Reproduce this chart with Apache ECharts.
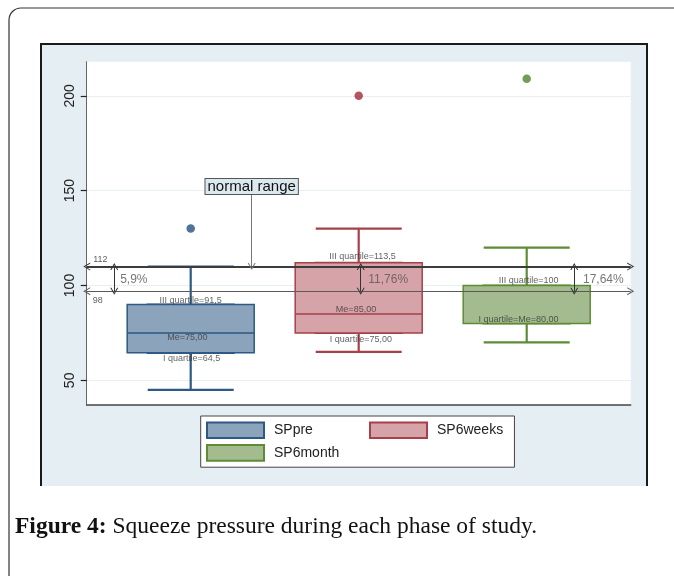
<!DOCTYPE html>
<html>
<head>
<meta charset="utf-8">
<script src="https://cdn.jsdelivr.net/npm/echarts@6/dist/echarts.min.js"></script>
<style>
html,body{margin:0;padding:0;background:#fff;}
#c{width:674px;height:576px;}
</style>
</head>
<body>
<div id="c"></div>
<script>
// ---------- data ----------
const categories = ['SPpre', 'SP6weeks', 'SP6month'];
const whiskerLow = [45, 65, 70];
const q1 = [64.5, 75, 80];
const median = [75, 85, 80];
const q3 = [90, 112, 100];
const whiskerHigh = [110, 130, 120];
const outliers = [130, 200, 209];
const yTicks = [50, 100, 150, 200];
const normalUpper = 110;   // line labelled "112"
const normalLower = 97;    // line labelled "98"
const normalLabels = ['112', '98'];
const percentLabels = ['5,9%', '11,76%', '17,64%'];
const quartileTexts = [
  ['III quartile=91,5', 'Me=75,00', 'I quartile=64,5'],
  ['III quartile=113,5', 'Me=85,00', 'I quartile=75,00'],
  ['III quartile=100', 'I quartile=Me=80,00']
];
const normalRangeText = 'normal range';
const captionBold = 'Figure 4:';
const captionText = 'Squeeze pressure during each phase of study.';

// ---------- styles / positions ----------
const fills = ['#8ba3bb', '#d6a3a8', '#a3bb8e'];
const borders = ['#2c5985', '#a8404a', '#5e8c35'];
const dots = ['#24507e', '#a02c37', '#52832b'];
const YMIN = 37, YMAX = 218;
const FONT = 'Liberation Sans, Arial, sans-serif';
const chevron = 'path://M0,10 L5,0 L10,10 L8.6,10 L5,2.8 L1.4,10 Z';

// annotation anchor positions (x in category units of the overlay axis)
const quartilePos = [
  [[0.0, 92], [-0.02, 72.4], [0.006, 61.7]],
  [[1.023, 115.2], [0.984, 87.6], [1.013, 71.7]],
  [[2.011, 102.5], [1.951, 82.2]]
];
const pctArrowX = [-0.455, 1.012, 2.283];
const pctLabelPos = [[-0.42, 102.9], [1.057, 102.9], [2.335, 103.3]];
const normalLabelPos = [[-0.58, 113.6], [-0.583, 92]];
const normalRangeX = 0.363, normalRangeTop = 148.2;

const chart = echarts.init(document.getElementById('c'), null, {renderer: 'canvas'});

const quartileData = [];
quartileTexts.forEach((arr, i) => arr.forEach((t, j) => {
  quartileData.push({value: [quartilePos[i][j][0], quartilePos[i][j][1], t]});
}));
const pctData = percentLabels.map((t, i) => ({value: [pctLabelPos[i][0], pctLabelPos[i][1], t]}));
const nlData = normalLabels.map((t, i) => ({value: [normalLabelPos[i][0], normalLabelPos[i][1], t]}));

const option = {
  backgroundColor: '#fff',
  animation: false,
  title: {
    text: '{b|' + captionBold + '} ' + captionText,
    left: 15, top: 515, padding: 0,
    textStyle: {
      fontFamily: 'Liberation Serif, serif', fontSize: 23.5, fontWeight: 'normal', color: '#111',
      rich: {b: {fontFamily: 'Liberation Serif, serif', fontSize: 23.5, fontWeight: 'bold', color: '#111'}}
    }
  },
  graphic: [
    {type: 'rect', z: -10, silent: true, shape: {x: 9, y: 8, width: 720, height: 620, r: 12},
     style: {fill: 'none', stroke: '#333', lineWidth: 1.2}},
    {type: 'rect', z: -10, silent: true, shape: {x: 41, y: 44, width: 606, height: 442},
     style: {fill: '#e5eef2'}},
    {type: 'polyline', z: -9, silent: true, shape: {points: [[41, 486], [41, 44], [647, 44], [647, 486]]},
     style: {fill: 'none', stroke: '#1a1a1a', lineWidth: 2}}
  ],
  legend: {
    left: 200.7, top: 416, width: 340,
    orient: 'horizontal', icon: 'rect',
    itemWidth: 57, itemHeight: 15.6, itemGap: 5,
    padding: [5.5, 11.3, 5.5, 5.3],
    borderColor: '#444', borderWidth: 1, backgroundColor: '#fff',
    textStyle: {fontFamily: FONT, fontSize: 14, color: '#222', lineHeight: 16, padding: [0, 0, 0, 5]},
    data: [{name: categories[0], textStyle: {width: 90}}, categories[1], categories[2]]
  },
  grid: [
    {left: 86.7, top: 61.7, width: 544, height: 343.3, show: true, backgroundColor: '#fff', borderWidth: 0},
    {left: 106.7, top: 61.7, width: 504, height: 343.3, show: false}
  ],
  xAxis: [
    {type: 'value', gridIndex: 0, min: -0.619, max: 2.619,
     axisLine: {show: true, onZero: false, lineStyle: {color: '#444', width: 1.5}},
     axisTick: {show: false}, axisLabel: {show: false}, splitLine: {show: false}},
    {type: 'category', gridIndex: 1, data: categories, show: false},
    {type: 'category', gridIndex: 1, data: categories, show: false}
  ],
  yAxis: [
    {type: 'value', gridIndex: 0, min: YMIN, max: YMAX,
     axisLine: {show: true, onZero: false, lineStyle: {color: '#666', width: 1}},
     axisTick: {show: true, customValues: yTicks, length: 6, lineStyle: {color: '#222', width: 1.2}},
     axisLabel: {show: true, customValues: yTicks, rotate: 90, margin: 10, fontSize: 14, color: '#222', fontFamily: FONT},
     splitLine: {show: true, lineStyle: {color: '#d3e0e6', width: 1, type: 'dotted'}}},
    {type: 'value', gridIndex: 1, min: YMIN, max: YMAX, show: false, splitLine: {show: false}}
  ],
  series: [
    {
      name: 'whiskers', type: 'boxplot', xAxisIndex: 2, yAxisIndex: 1, z: 2,
      boxWidth: [86, 86], silent: true,
      data: categories.map((c, i) => ({
        value: [whiskerLow[i], q1[i], median[i], q3[i], whiskerHigh[i]],
        itemStyle: {color: fills[i], borderColor: borders[i], borderWidth: 2.2}
      }))
    },
    {
      name: 'boxes', type: 'boxplot', xAxisIndex: 1, yAxisIndex: 1, z: 3,
      boxWidth: [127, 127], silent: true,
      data: categories.map((c, i) => ({
        value: [q1[i], q1[i], median[i], q3[i], q3[i]],
        itemStyle: {color: fills[i], borderColor: borders[i], borderWidth: 1.5}
      }))
    },
    {
      name: 'outliers', type: 'scatter', xAxisIndex: 1, yAxisIndex: 1, z: 4,
      symbolSize: 8.5, silent: true,
      data: categories.map((c, i) => ({value: [i, outliers[i]], itemStyle: {color: dots[i]}}))
    },
    // legend entries
    ...categories.map((c, i) => ({
      name: c, type: 'bar', xAxisIndex: 1, yAxisIndex: 1, data: [],
      itemStyle: {color: fills[i], borderColor: borders[i], borderWidth: 1.5}
    })),
    {
      name: 'quartileLabels', type: 'scatter', xAxisIndex: 0, yAxisIndex: 0, z: 6,
      symbolSize: 0, silent: true,
      label: {show: true, position: 'inside', formatter: p => p.value[2], fontSize: 9, color: '#3a3a3a', fontFamily: FONT},
      data: quartileData,
      markLine: {
        silent: true, animation: false,
        label: {show: false},
        symbol: [chevron, chevron], symbolSize: [8, 7],
        data: [
          {yAxis: normalUpper, lineStyle: {color: '#3c3c3c', width: 1.8, type: 'solid'}},
          {yAxis: normalLower, lineStyle: {color: '#5a5a5a', width: 1, type: 'solid'}},
          ...pctArrowX.map(x => [
            {coord: [x, normalUpper], lineStyle: {color: '#333', width: 1, type: 'solid'}},
            {coord: [x, normalLower]}
          ]),
          [
            {coord: [normalRangeX, normalRangeTop], symbol: 'none',
             lineStyle: {color: '#777', width: 1, type: 'solid'},
             label: {show: true, position: 'start', formatter: normalRangeText, distance: 0,
                     fontSize: 15, color: '#111', fontFamily: FONT, lineHeight: 15,
                     backgroundColor: '#dbe8ee', borderColor: '#555', borderWidth: 1, padding: [0, 2, 0, 2]}},
            {coord: [normalRangeX, normalUpper], symbol: chevron}
          ]
        ]
      }
    },
    {
      name: 'pctLabels', type: 'scatter', xAxisIndex: 0, yAxisIndex: 0, z: 6,
      symbolSize: 0, silent: true,
      label: {show: true, position: 'right', distance: 0, formatter: p => p.value[2], fontSize: 12, color: '#555', fontFamily: FONT},
      data: pctData
    },
    {
      name: 'normalLabels', type: 'scatter', xAxisIndex: 0, yAxisIndex: 0, z: 6,
      symbolSize: 0, silent: true,
      label: {show: true, position: 'right', distance: 0, formatter: p => p.value[2], fontSize: 9, color: '#333', fontFamily: FONT},
      data: nlData
    }
  ]
};
chart.setOption(option);
</script>
</body>
</html>
